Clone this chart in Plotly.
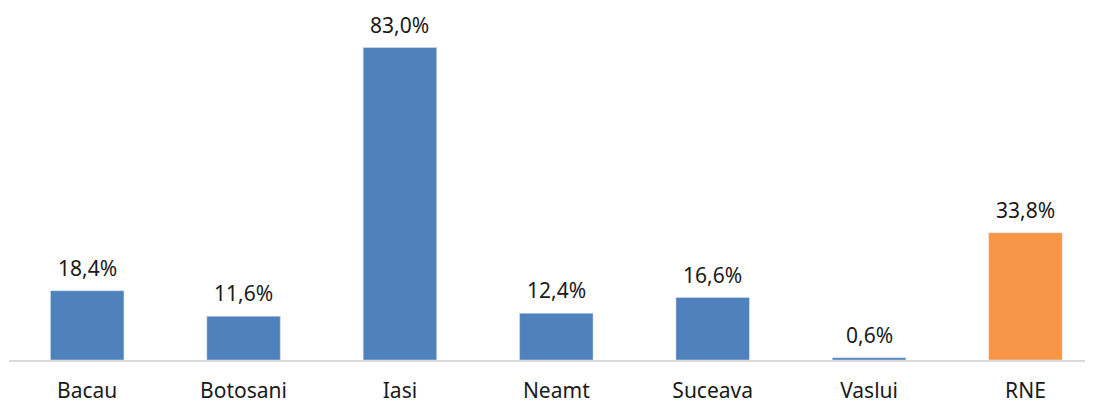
import plotly.graph_objects as go

regions = ["Bacau", "Botosani", "Iasi", "Neamt", "Suceava", "Vaslui", "RNE"]
share = [18.4, 11.6, 83.0, 12.4, 16.6, 0.6, 33.8]
labels = ["18,4%", "11,6%", "83,0%", "12,4%", "16,6%", "0,6%", "33,8%"]
colors = ["#4f81bd"] * 6 + ["#f79646"]

fig = go.Figure(go.Bar(
    x=regions, y=share,
    marker=dict(color=colors, line=dict(color="#dbe4f0", width=0.5)),
    width=0.47,
))

for r, v, t in zip(regions, share, labels):
    fig.add_annotation(x=r, y=v, text=t, showarrow=False,
                       yanchor="bottom", yshift=8, borderpad=0,
                       font=dict(size=21, color="#1a1a1a"))

# page body has an 8px margin, so the figure is a bit smaller than the window
fig.update_layout(
    width=1085, height=396,
    margin=dict(l=1, r=0, t=0, b=42),
    plot_bgcolor="white", paper_bgcolor="white",
    font=dict(family="Noto Sans", size=21, color="#1a1a1a"),
    showlegend=False,
)
fig.update_xaxes(range=[-0.5, 6.432], showline=True, linecolor="#d9d9d9",
                 linewidth=2, ticks="outside", ticklen=11, tickcolor="white",
                 showgrid=False)
fig.update_yaxes(range=[0, 93.5], visible=False, showgrid=False)

fig.write_html("out.html")
